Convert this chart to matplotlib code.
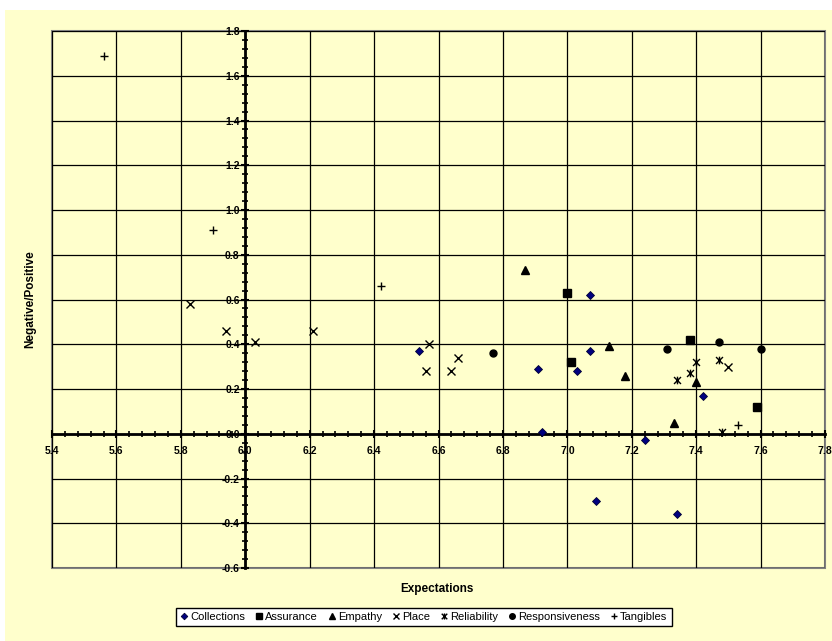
import matplotlib.pyplot as plt
from matplotlib.path import Path
from matplotlib.patches import Rectangle
import numpy as np

# expectation score (x) vs negative/positive gap (y) for each service dimension
collections_x = [6.54, 6.91, 6.92, 7.03, 7.07, 7.07, 7.09, 7.24, 7.34, 7.42]
collections_y = [0.37, 0.29, 0.01, 0.28, 0.62, 0.37, -0.30, -0.03, -0.36, 0.17]
assurance_x = [7.00, 7.01, 7.38, 7.59]
assurance_y = [0.63, 0.32, 0.42, 0.12]
empathy_x = [6.87, 7.13, 7.18, 7.33, 7.40]
empathy_y = [0.73, 0.39, 0.26, 0.05, 0.23]
place_x = [5.83, 5.94, 6.03, 6.21, 6.57, 6.56, 6.66, 6.64, 7.50]
place_y = [0.58, 0.46, 0.41, 0.46, 0.40, 0.28, 0.34, 0.28, 0.30]
reliability_x = [7.34, 7.38, 7.40, 7.47, 7.48]
reliability_y = [0.24, 0.27, 0.32, 0.33, 0.01]
responsiveness_x = [6.77, 7.31, 7.47, 7.60]
responsiveness_y = [0.36, 0.38, 0.41, 0.38]
tangibles_x = [5.56, 5.90, 6.42, 7.53]
tangibles_y = [1.69, 0.91, 0.66, 0.04]

bg = '#FFFFCC'

# excel style "star" marker: a cross with a vertical bar through it
star = Path([(-1, -1), (1, 1), (-1, 1), (1, -1), (0, -1.1), (0, 1.1)],
            [Path.MOVETO, Path.LINETO, Path.MOVETO, Path.LINETO, Path.MOVETO, Path.LINETO])

fig = plt.figure(figsize=(8.32, 6.41), dpi=100)
fig.patches.append(Rectangle((5 / 832, 0), 1, 1 - 10 / 641, transform=fig.transFigure,
                             facecolor=bg, edgecolor='none', zorder=-10))

ax = fig.add_axes([52 / 832, 1 - 568 / 641, 773 / 832, 537 / 641])
ax.set_facecolor(bg)
ax.set_xlim(5.4, 7.8)
ax.set_ylim(-0.6, 1.8)

ax.set_xticks(np.arange(5.4, 7.81, 0.2))
ax.set_yticks(np.arange(-0.6, 1.81, 0.2))
ax.set_xticks(np.arange(5.4, 7.81, 0.04), minor=True)
ax.set_yticks(np.arange(-0.6, 1.81, 0.04), minor=True)
ax.set_xticklabels(['%.1f' % v for v in np.arange(5.4, 7.81, 0.2)])
ax.set_yticklabels(['%.1f' % (v + 0.0) for v in np.round(np.arange(-0.6, 1.81, 0.2), 1)])
ax.grid(True, which='major', color='black', linewidth=0.9, zorder=0)

# axes cross at (6.0, 0.0)
ax.spines['left'].set_position(('data', 6.0))
ax.spines['bottom'].set_position(('data', 0.0))
ax.spines['right'].set_visible(False)
ax.spines['top'].set_visible(False)
for s in ['left', 'bottom']:
    ax.spines[s].set_linewidth(2)
    ax.spines[s].set_zorder(2)
ax.add_patch(Rectangle((0, 0), 1, 1, transform=ax.transAxes, fill=False,
                       edgecolor='#808080', linewidth=1.5, zorder=1, clip_on=False))

ax.tick_params(which='major', direction='inout', length=6, width=1.5)
ax.tick_params(which='minor', direction='inout', length=5, width=1.2)
ax.tick_params(axis='x', which='major', pad=6)
ax.tick_params(axis='y', which='major', pad=1)
for lab in ax.get_xticklabels() + ax.get_yticklabels():
    lab.set_fontfamily('Liberation Sans')
    lab.set_fontweight('bold')
    lab.set_fontsize(7.5)

ax.plot(collections_x, collections_y, ls='none', marker='D', ms=4.2, color='#000080',
        mec='#000033', mew=0.6, label='Collections', zorder=5)
ax.plot(assurance_x, assurance_y, ls='none', marker='s', ms=5.5, color='black',
        label='Assurance', zorder=5)
ax.plot(empathy_x, empathy_y, ls='none', marker='^', ms=5.8, color='black',
        label='Empathy', zorder=5)
ax.plot(place_x, place_y, ls='none', marker='x', ms=5.5, color='black', mew=1,
        label='Place', zorder=5)
ax.plot(reliability_x, reliability_y, ls='none', marker=star, ms=5.5, color='black', mew=1,
        label='Reliability', zorder=5)
ax.plot(responsiveness_x, responsiveness_y, ls='none', marker='o', ms=5, color='black',
        label='Responsiveness', zorder=5)
ax.plot(tangibles_x, tangibles_y, ls='none', marker='+', ms=6, color='black', mew=1,
        label='Tangibles', zorder=5)

fig.text(437 / 832, 1 - 589 / 641, 'Expectations', ha='center', va='center',
         family='Liberation Sans', weight='bold', fontsize=8.5)
fig.text(30 / 832, 1 - 299 / 641, 'Negative/Positive', ha='center', va='center',
         rotation=90, family='Liberation Sans', weight='bold', fontsize=8.5)

leg = fig.legend(loc='center', bbox_to_anchor=(424 / 832, 1 - 617 / 641), ncol=7,
                 prop={'family': 'Liberation Sans', 'size': 8}, frameon=True,
                 fancybox=False, edgecolor='black', facecolor='white', framealpha=1,
                 handlelength=0.6, handletextpad=0.3, columnspacing=0.9,
                 borderpad=0.4, markerscale=0.8)
leg.get_frame().set_linewidth(1)

plt.savefig('out.png', dpi=100)
